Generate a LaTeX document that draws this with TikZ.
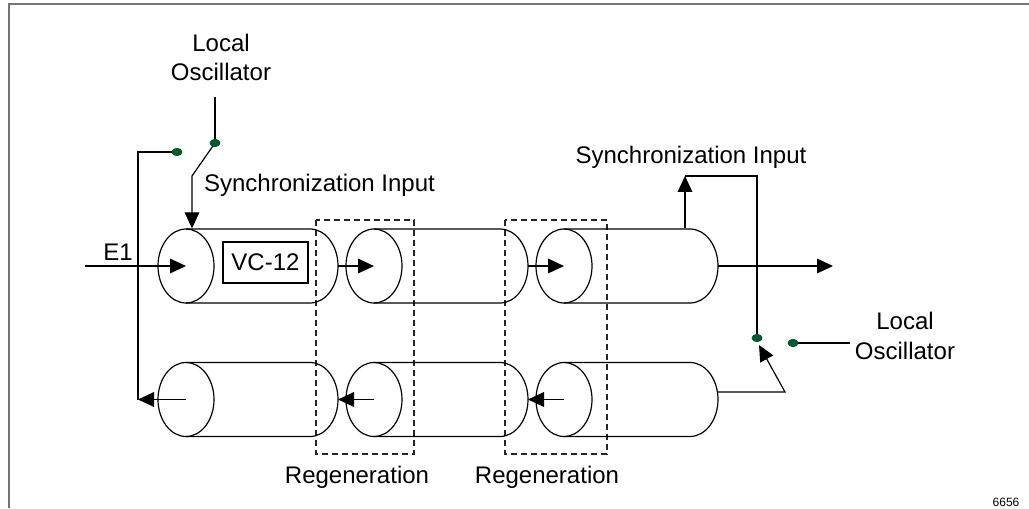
\documentclass[tikz,border=0pt]{standalone}
\usepackage{fontspec}
\setmainfont{Liberation Sans}
\usetikzlibrary{arrows.meta, shapes.geometric}
\definecolor{dotgreen}{HTML}{005A30}

\begin{document}
\begin{tikzpicture}[x=0.75pt,y=0.75pt,line width=0.9pt]

\tikzset{face/.style = {shape=ellipse,draw,minimum width=42pt,minimum height=55.5pt,inner sep=0pt}}
\tikzset{swdot/.style = {shape=ellipse,fill=dotgreen,minimum width=8pt,minimum height=6pt,inner sep=0pt}}
\tikzset{sig/.style = {-{Triangle[length=12pt,width=11pt]}}}
\tikzset{txt/.style = {font=\fontsize{18}{22}\selectfont,align=center}}
\tikzset{regen/.style = {draw=black!85,dash pattern=on 4.5pt off 3pt}}
\useasboundingbox (0,0) rectangle (1029,508);
%frame
\draw[line width=1.5pt,black!55] (9,0) -- (9,504) -- (1029,504);
%regeneration boxes
\draw[regen] (316,288) rectangle (414,54);
\draw[regen] (505,288) rectangle (607,54);
%cylinders, top row
\draw (186,279) -- (310,279) arc[start angle=90,end angle=-90,x radius=21pt,y radius=27.75pt] -- (186,205);
\draw (374,279) -- (500,279) arc[start angle=90,end angle=-90,x radius=21pt,y radius=27.75pt] -- (374,205);
\draw (564,279) -- (690,279) arc[start angle=90,end angle=-90,x radius=21pt,y radius=27.75pt] -- (564,205);
\node[face] (t1) at (186,242) {};
\node[face] (t2) at (374,242) {};
\node[face] (t3) at (564,242) {};
\coordinate (t1e) at (338,242);
\coordinate (t2e) at (528,242);
\coordinate (t3e) at (718,242);
%cylinders, bottom row
\draw (186,145.5) -- (310,145.5) arc[start angle=90,end angle=-90,x radius=21pt,y radius=27.75pt] -- (186,71.5);
\draw (374,145.5) -- (500,145.5) arc[start angle=90,end angle=-90,x radius=21pt,y radius=27.75pt] -- (374,71.5);
\draw (564,145.5) -- (690,145.5) arc[start angle=90,end angle=-90,x radius=21pt,y radius=27.75pt] -- (564,71.5);
\node[face] (b1) at (186,108.5) {};
\node[face] (b2) at (374,108.5) {};
\node[face] (b3) at (564,108.5) {};
\coordinate (b1e) at (338,108.5);
\coordinate (b2e) at (528,108.5);
\coordinate (b3e) at (718,108.5);
%texts
\node[txt] (lo1) at (221,450.5) {Local\\Oscillator};
\node[txt] (lo2) at (905,172) {Local\\Oscillator};
\node[txt] (sync1) at (319.5,323) {Synchronization Input};
\node[txt] (sync2) at (691,351) {Synchronization Input};
\node[txt] (e1lbl) at (118,256) {E1};
\node[txt,draw,minimum width=63.75pt,minimum height=30.75pt,inner sep=0pt] (vc) at (265.5,245.5) {VC-12};
\node[txt] (reg1) at (357,31) {Regeneration};
\node[txt] (reg2) at (547,31) {Regeneration};
\node[font=\fontsize{9}{10}\selectfont] (fig) at (1006,6) {6656};
%switch contacts
\node[swdot] (d1) at (177,356) {};
\node[swdot] (d2) at (215,365) {};
\node[swdot] (d3) at (757,170) {};
\node[swdot] (d4) at (793,165) {};
\coordinate (ein) at (85,242);
\coordinate (lp) at (138,108.5);
\coordinate (lo1in) at (215,411);
\coordinate (k1) at (192,332);
\coordinate (s2) at (685,332);
\coordinate (out) at (833,242);
\coordinate (k2) at (785,116);
\coordinate (k3) at (759,163);
%signal path
\draw[sig] (ein) -- (t1.center);
\draw[sig] (t1e) -- (t2.center);
\draw[sig] (t2e) -- (t3.center);
\draw[sig] (t3e) -- (out);
\draw[sig] (b3.center) -- (b2e);
\draw[sig] (b2.center) -- (b1e);
\draw[sig] (b1.center) -- (lp);
\draw (lp) |- (d1.center);
%synchronization
\draw (lo1in) -- (d2.center);
\draw[sig] (d2.center) -- (k1) -- (k1 |- t1.north);
\draw[sig] (s2 |- t3.north) -- (s2);
\draw (s2) -| (d3.center);
\draw[sig] (b3e |- k2) -- (k2) -- (k3);
\draw (d4.center) -- (d4 -| lo2.west);
\node[swdot] at (d1) {};
\node[swdot] at (d2) {};
\node[swdot] at (d3) {};
\node[swdot] at (d4) {};

\end{tikzpicture}
\end{document}
